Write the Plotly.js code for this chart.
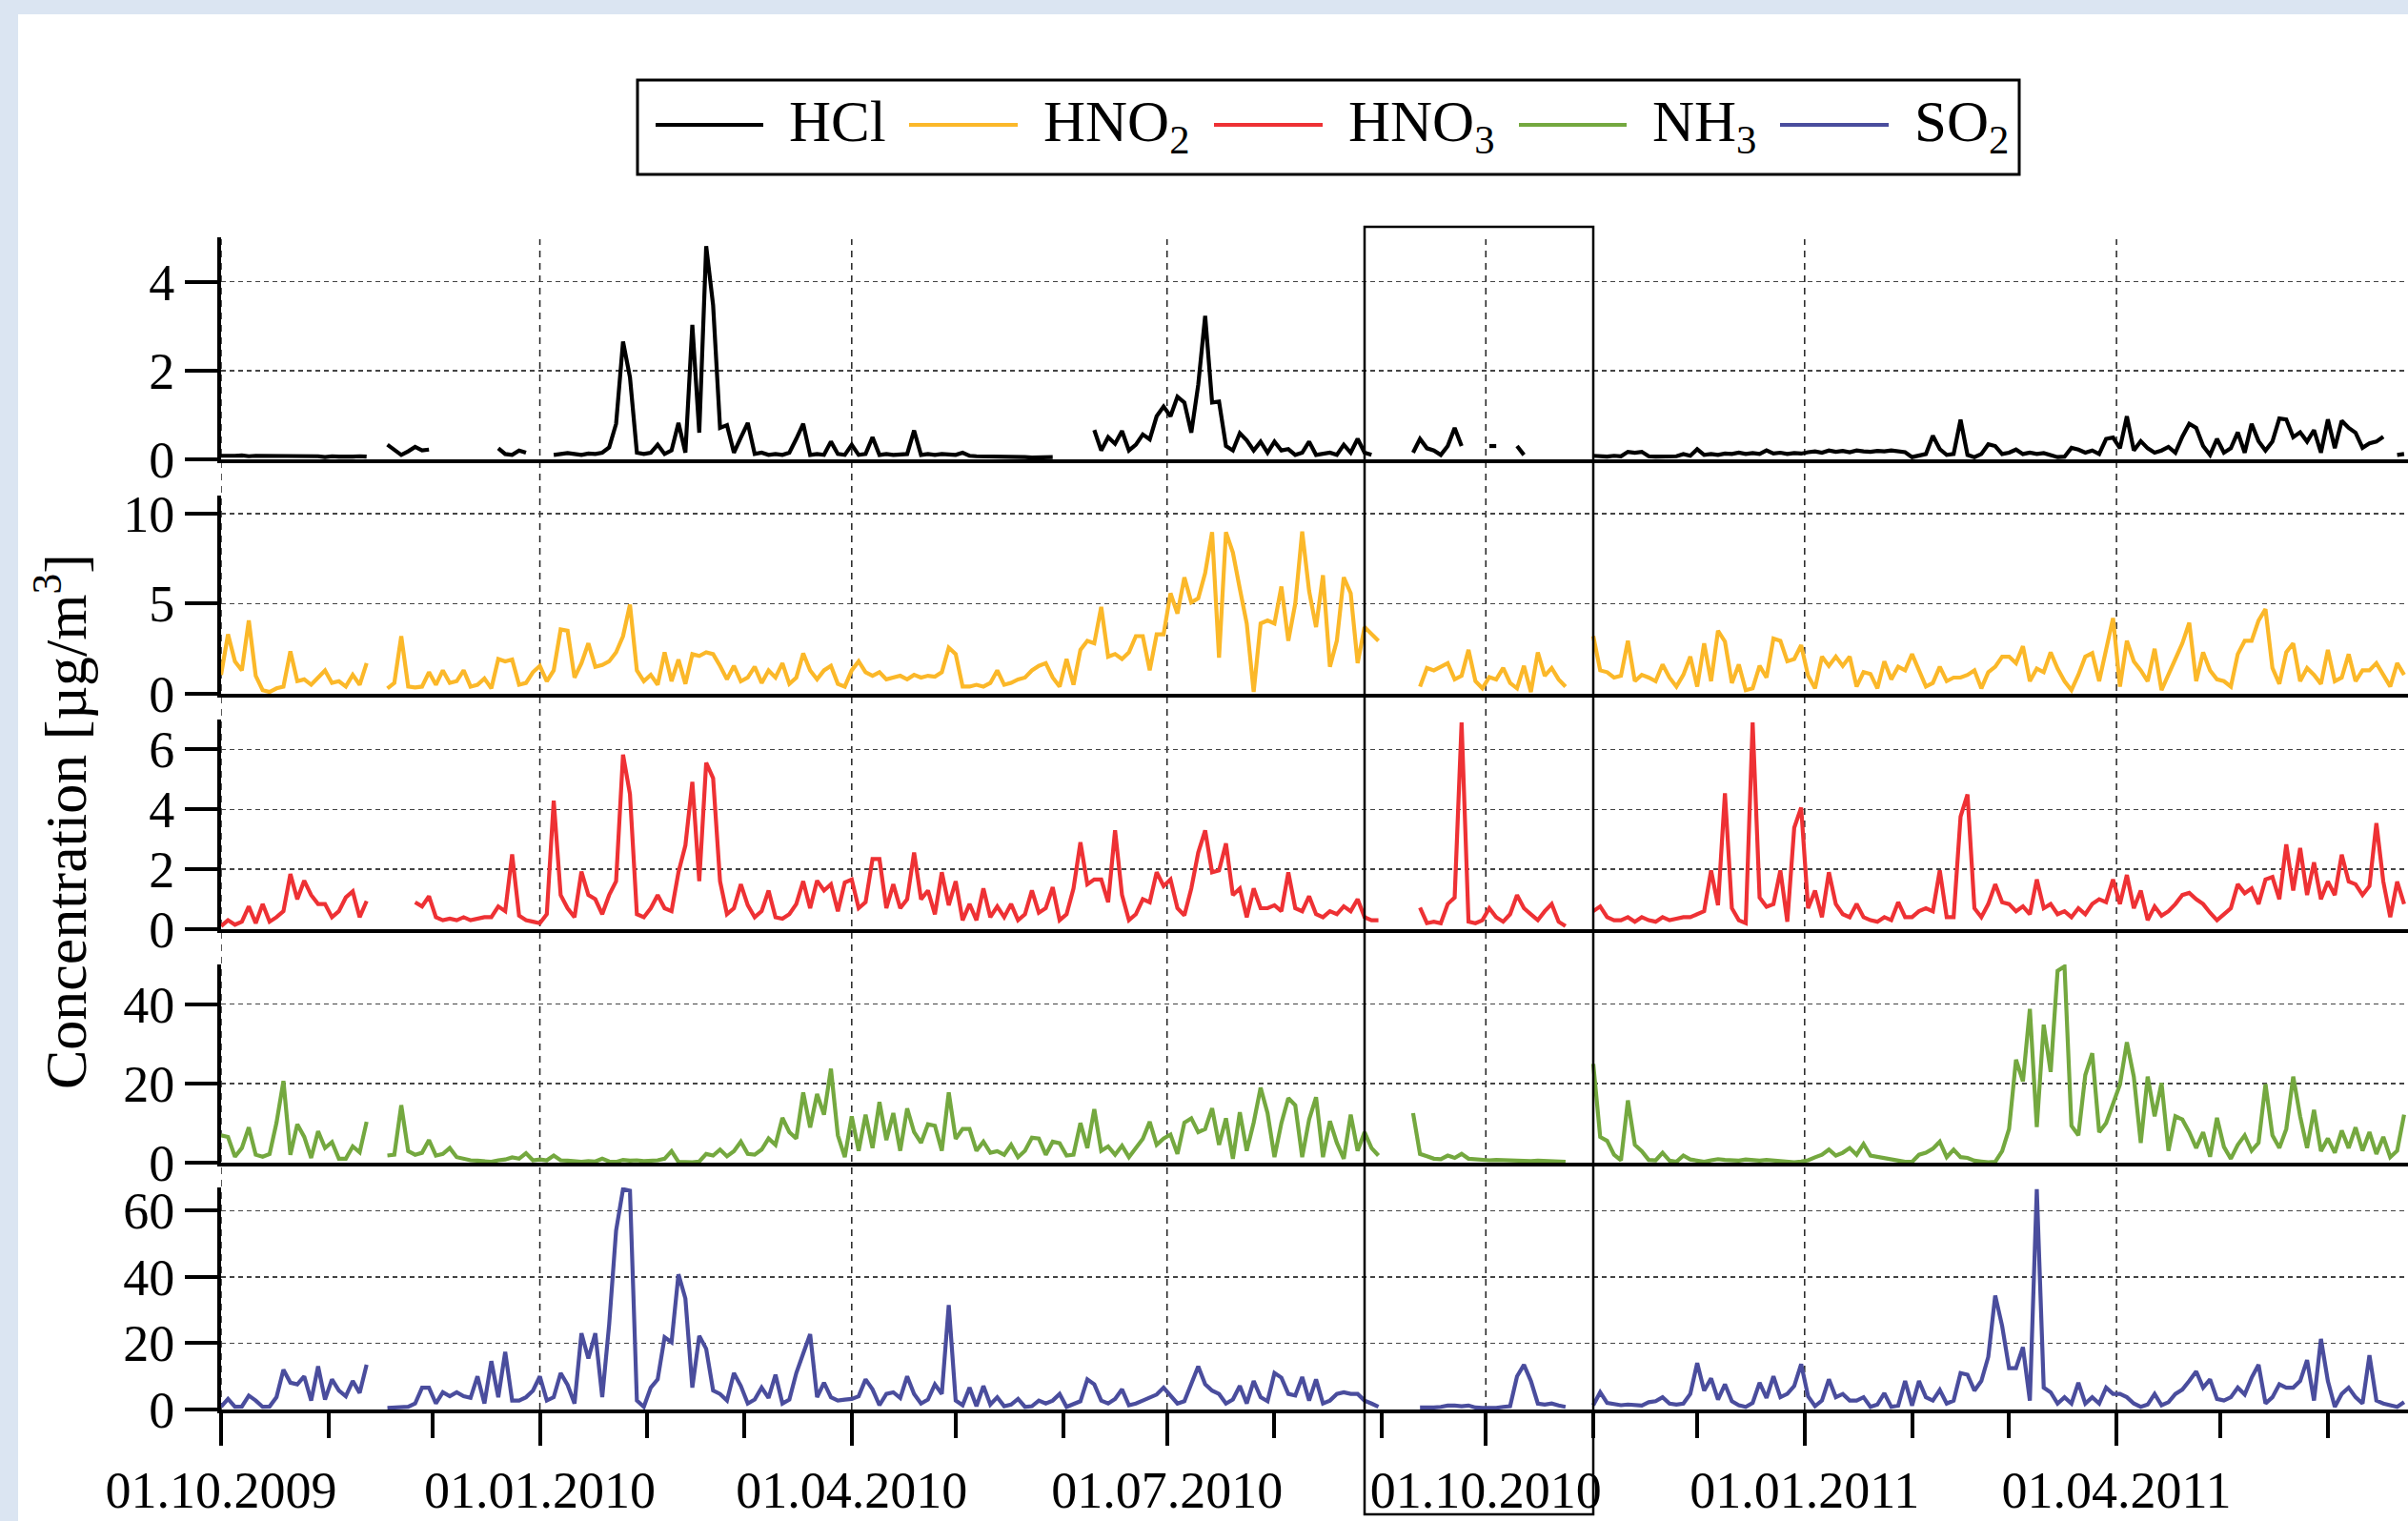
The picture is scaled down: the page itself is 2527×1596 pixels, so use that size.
<!DOCTYPE html>
<html><head><meta charset="utf-8">
<script src="https://cdn.plot.ly/plotly-3.0.1.min.js"></script>
<style>html,body{margin:0;padding:0;background:#fff;}#chart{width:2527px;height:1596px;}</style>
</head><body><div id="chart"></div>
<script>
// sampling grid: one value every 2 days starting 01.10.2009
const SAMPLE_START = '2009-10-01';
const SAMPLE_STEP_DAYS = 2;

const seriesNames = ['HCl', 'HNO<sub>2</sub>', 'HNO<sub>3</sub>', 'NH<sub>3</sub>', 'SO<sub>2</sub>'];
const seriesColors = ['#000000', '#fbb829', '#ee3134', '#74a83f', '#4a4d9d'];

const HCl = [
/*0*/   0.08,0.07,0.08,0.09,0.07,0.08,0.08,0.07,0.07,0.08,
/*10*/  0.06,0.07,0.08,0.06,0.07,0.05,0.07,0.06,0.05,0.06,
/*20*/  0.07,0.06,null,null,0.33,0.22,0.1,0.18,0.28,0.2,
/*30*/  0.22,null,null,null,null,null,null,null,null,null,
/*40*/  0.25,0.12,0.1,0.2,0.15,null,null,null,0.1,0.12,
/*50*/  0.14,0.12,0.1,0.13,0.12,0.15,0.27,0.8,2.65,1.85,
/*60*/  0.15,0.12,0.15,0.33,0.12,0.2,0.82,0.15,3.03,0.6,
/*70*/  4.8,3.47,0.71,0.77,0.15,0.49,0.82,0.12,0.15,0.1,
/*80*/  0.12,0.1,0.15,0.46,0.8,0.1,0.12,0.1,0.4,0.12,
/*90*/  0.1,0.33,0.1,0.12,0.5,0.1,0.12,0.1,0.1,0.12,
/*100*/ 0.65,0.1,0.12,0.1,0.12,0.1,0.1,0.15,0.08,0.07,
/*110*/ 0.07,0.06,0.07,0.06,0.05,0.06,0.05,0.04,0.05,0.06,
/*120*/ 0.05,null,null,null,null,null,0.66,0.2,0.5,0.35,
/*130*/ 0.64,0.2,0.33,0.56,0.45,0.97,1.19,0.97,1.41,1.28,
/*140*/ 0.6,1.68,3.23,1.28,1.3,0.3,0.2,0.59,0.43,0.2,
/*150*/ 0.4,0.15,0.4,0.2,0.23,0.1,0.15,0.4,0.1,0.12,
/*160*/ 0.15,0.1,0.33,0.15,0.46,0.15,0.1,null,null,null,
/*170*/ null,null,0.15,0.46,0.25,0.2,0.1,0.3,0.71,0.3,
/*180*/ null,null,null,0.3,0.3,null,null,0.3,0.1,null,
/*190*/ null,null,null,null,null,null,null,null,0.08,0.07,
/*200*/ 0.06,0.08,0.07,0.17,0.15,0.17,0.07,0.06,0.07,0.08,
/*210*/ 0.07,0.12,0.08,0.23,0.1,0.12,0.1,0.13,0.12,0.15,
/*220*/ 0.12,0.14,0.12,0.2,0.13,0.15,0.12,0.14,0.13,0.16,
/*230*/ 0.18,0.15,0.2,0.17,0.19,0.16,0.2,0.18,0.17,0.19,
/*240*/ 0.18,0.2,0.17,0.16,0.05,0.08,0.12,0.53,0.23,0.1,
/*250*/ 0.12,0.89,0.1,0.05,0.12,0.34,0.3,0.12,0.15,0.22,
/*260*/ 0.12,0.15,0.12,0.14,0.1,0.05,0.06,0.26,0.22,0.15,
/*270*/ 0.2,0.12,0.46,0.49,0.25,0.97,0.2,0.41,0.25,0.15,
/*280*/ 0.2,0.28,0.15,0.51,0.8,0.71,0.3,0.1,0.46,0.15,
/*290*/ 0.25,0.61,0.15,0.8,0.41,0.2,0.4,0.92,0.9,0.5,
/*300*/ 0.61,0.4,0.66,0.15,0.9,0.25,0.87,0.71,0.6,0.26,
/*310*/ 0.36,0.4,0.51,null,0.1,0.12
];

const HNO2 = [
/*0*/   1.05,3.3,1.8,1.3,4.07,1.0,0.2,0.1,0.3,0.4,
/*10*/  2.36,0.7,0.8,0.5,0.9,1.3,0.6,0.7,0.4,1.05,
/*20*/  0.5,1.7,null,null,0.3,0.6,3.2,0.4,0.35,0.4,
/*30*/  1.2,0.5,1.3,0.6,0.7,1.3,0.4,0.5,0.85,0.3,
/*40*/  1.93,1.8,1.9,0.5,0.6,1.2,1.55,0.7,1.3,3.57,
/*50*/  3.5,0.9,1.7,2.8,1.5,1.6,1.8,2.3,3.2,4.95,
/*60*/  1.3,0.7,1.05,0.5,2.3,0.7,1.9,0.55,2.2,2.1,
/*70*/  2.3,2.2,1.55,0.8,1.55,0.7,0.9,1.5,0.6,1.3,
/*80*/  0.9,1.7,0.55,0.9,2.24,1.3,0.8,1.3,1.55,0.55,
/*90*/  0.4,1.3,1.8,1.2,1.0,1.2,0.8,0.9,1.0,0.8,
/*100*/ 1.05,0.9,1.0,0.95,1.2,2.56,2.2,0.4,0.4,0.5,
/*110*/ 0.4,0.6,1.3,0.5,0.6,0.8,0.9,1.3,1.55,1.7,
/*120*/ 0.9,0.4,1.93,0.5,2.44,2.94,2.8,4.82,2.06,2.2,
/*130*/ 1.93,2.3,3.2,3.2,1.3,3.3,3.3,5.58,4.45,6.46,
/*140*/ 5.07,5.3,6.7,8.97,2.0,8.97,7.84,5.83,3.9,0.1,
/*150*/ 3.9,4.07,3.9,5.95,2.94,5.0,9.0,5.7,3.7,6.58,
/*160*/ 1.5,2.94,6.46,5.58,1.7,3.7,3.3,2.94,null,null,
/*170*/ null,null,null,0.4,1.43,1.3,1.5,1.7,0.8,1.0,
/*180*/ 2.44,0.7,0.3,0.93,0.8,1.43,0.6,0.3,1.55,0.1,
/*190*/ 2.3,1.0,1.43,0.8,0.4,null,null,null,3.2,1.3,
/*200*/ 1.2,0.9,1.0,2.94,0.7,1.05,0.9,0.7,1.63,0.9,
/*210*/ 0.4,1.05,2.06,0.4,2.8,0.7,3.5,2.9,0.6,1.63,
/*220*/ 0.2,0.3,1.55,0.9,3.07,2.94,1.8,1.93,2.7,1.0,
/*230*/ 0.3,2.06,1.55,2.06,1.55,2.06,0.4,1.2,1.1,0.3,
/*240*/ 1.8,0.8,1.5,1.3,2.2,1.3,0.4,0.6,1.5,0.7,
/*250*/ 0.9,0.9,1.05,1.3,0.3,1.2,1.5,2.06,2.06,1.7,
/*260*/ 2.64,0.7,1.4,1.2,2.3,1.4,0.7,0.2,1.05,2.06,
/*270*/ 2.26,0.7,2.56,4.2,0.4,2.94,1.8,1.3,0.7,2.5,
/*280*/ 0.2,1.05,2.0,2.8,3.94,0.7,2.3,1.3,0.8,0.7,
/*290*/ 0.4,2.2,2.94,2.94,4.07,4.7,1.43,0.55,2.3,2.8,
/*300*/ 0.7,1.43,1.05,0.55,2.44,0.7,0.9,2.2,0.7,1.3,
/*310*/ 1.3,1.7,1.05,0.4,1.7,1.05
];

const HNO3 = [
/*0*/   0.1,0.3,0.15,0.25,0.76,0.2,0.84,0.25,0.4,0.6,
/*10*/  1.84,1.0,1.62,1.14,0.84,0.84,0.4,0.6,1.06,1.26,
/*20*/  0.4,0.94,null,null,null,null,null,null,0.9,0.76,
/*30*/  1.1,0.4,0.3,0.35,0.3,0.4,0.3,0.35,0.4,0.4,
/*40*/  0.76,0.6,2.5,0.45,0.3,0.25,0.2,0.5,4.29,1.14,
/*50*/  0.7,0.4,1.92,1.14,1.0,0.5,1.14,1.6,5.83,4.51,
/*60*/  0.5,0.4,0.7,1.14,0.7,0.6,1.9,2.8,4.92,1.6,
/*70*/  5.56,5.04,1.6,0.5,0.7,1.5,0.8,0.4,0.6,1.29,
/*80*/  0.4,0.35,0.5,0.84,1.6,0.7,1.62,1.29,1.5,0.6,
/*90*/  1.56,1.66,0.7,0.9,2.34,2.34,0.7,1.5,0.7,1.0,
/*100*/ 2.56,1.0,1.29,0.5,1.9,0.8,1.6,0.3,0.84,0.3,
/*110*/ 1.36,0.4,0.76,0.4,0.84,0.3,0.5,1.29,0.55,0.7,
/*120*/ 1.4,0.3,0.5,1.36,2.9,1.5,1.66,1.66,0.9,3.3,
/*130*/ 1.14,0.3,0.5,1.0,0.9,1.9,1.44,1.66,0.7,0.46,
/*140*/ 1.36,2.56,3.3,1.9,1.96,2.86,1.14,1.36,0.4,1.36,
/*150*/ 0.7,0.7,0.8,0.6,1.9,0.7,0.6,1.1,0.5,0.4,
/*160*/ 0.6,0.5,0.76,0.6,1.0,0.4,0.3,0.3,null,null,
/*170*/ null,null,null,0.72,0.2,0.25,0.2,0.84,1.06,6.9,
/*180*/ 0.25,0.2,0.3,0.7,0.4,0.25,0.5,1.14,0.7,0.5,
/*190*/ 0.3,0.6,0.84,0.25,0.1,null,null,null,0.6,0.76,
/*200*/ 0.4,0.3,0.3,0.4,0.25,0.4,0.3,0.25,0.4,0.3,
/*210*/ 0.35,0.4,0.4,0.5,0.6,1.96,0.8,4.54,0.7,0.3,
/*220*/ 0.2,6.9,1.06,0.75,0.84,1.96,0.25,3.39,4.06,0.7,
/*230*/ 1.29,0.4,1.9,0.84,0.5,0.4,0.84,0.4,0.3,0.25,
/*240*/ 0.4,0.3,0.9,0.4,0.4,0.6,0.7,0.6,1.96,0.4,
/*250*/ 0.4,3.76,4.5,0.7,0.4,0.84,1.5,0.9,0.84,0.6,
/*260*/ 0.76,0.5,1.66,0.7,0.84,0.5,0.6,0.4,0.7,0.5,
/*270*/ 0.84,1.0,0.9,1.66,0.84,1.81,0.7,1.29,0.3,0.76,
/*280*/ 0.45,0.6,0.84,1.14,1.21,1.0,0.84,0.55,0.3,0.5,
/*290*/ 0.7,1.5,1.2,1.36,0.84,1.66,1.74,1.0,2.83,1.29,
/*300*/ 2.71,1.14,2.23,1.0,1.59,1.14,2.49,1.59,1.5,1.14,
/*310*/ 1.44,3.54,1.59,0.4,1.59,0.84
];

const NH3 = [
/*0*/   6.9,6.5,1.5,3.7,8.9,2.0,1.5,2.2,10.1,20.6,
/*10*/  2.0,9.7,6.5,1.2,7.9,3.7,5.2,1.0,1.0,4.1,
/*20*/  2.6,10.3,null,null,1.8,2.0,14.5,2.9,2.0,2.5,
/*30*/  5.7,1.8,2.2,3.7,1.4,1.0,0.6,0.5,0.3,0.2,
/*40*/  0.6,0.8,1.35,1.0,2.4,0.6,0.8,0.6,1.8,0.6,
/*50*/  0.5,0.3,0.2,0.4,0.3,1.0,0.3,0.2,0.7,0.5,
/*60*/  0.6,0.4,0.5,0.6,1.0,2.9,0.2,0.1,0.1,0.3,
/*70*/  2.2,1.8,3.3,1.6,2.9,5.3,2.2,2.0,3.3,6.1,
/*80*/  4.5,11.3,7.7,6.1,17.7,8.9,17.3,12.1,23.7,6.9,
/*90*/  1.4,11.7,3.0,12.1,3.7,15.3,5.7,12.5,3.0,13.7,
/*100*/ 7.7,5.0,9.7,9.3,3.0,17.7,6.0,8.5,8.5,3.0,
/*110*/ 5.3,2.5,2.9,2.0,4.5,1.4,3.0,6.3,6.1,2.0,
/*120*/ 5.3,4.9,1.8,2.0,10.0,3.7,13.5,3.0,4.1,2.0,
/*130*/ 4.3,1.4,3.7,6.0,10.3,4.5,6.1,7.1,2.2,10.1,
/*140*/ 11.2,7.7,8.5,13.7,4.5,11.2,1.0,12.7,3.0,10.1,
/*150*/ 18.9,12.5,1.4,10.0,16.3,14.5,1.4,10.9,16.5,1.4,
/*160*/ 10.5,5.0,1.0,12.1,3.0,7.7,3.7,1.8,null,null,
/*170*/ null,null,12.5,2.2,1.6,1.0,0.9,1.8,1.2,2.2,
/*180*/ 1.0,0.8,0.7,0.6,0.7,0.6,0.5,0.5,0.5,0.4,
/*190*/ 0.5,0.4,0.3,0.2,0.2,null,null,null,24.9,6.5,
/*200*/ 5.5,2.0,0.6,15.7,4.5,2.9,0.7,0.6,2.5,0.5,
/*210*/ 0.2,1.8,0.8,0.5,0.2,0.6,0.9,0.7,0.6,0.5,
/*220*/ 0.8,0.6,0.5,0.7,0.6,0.5,0.4,0.1,0.3,0.6,
/*230*/ 1.35,2.0,3.3,1.8,2.5,3.7,2.0,4.7,1.8,1.5,
/*240*/ 1.2,0.9,0.6,0.2,0.2,2.0,2.5,3.5,5.3,1.4,
/*250*/ 3.3,1.4,1.2,0.5,0.3,0.1,0.2,2.9,8.5,26,
/*260*/ 20.5,38.8,9.0,34.8,22.9,48.4,49.5,9.3,6.9,22.1,
/*270*/ 27.6,7.7,10.0,14.9,19.7,30.4,21.7,5.0,21.7,11.7,
/*280*/ 20.1,3.0,11.7,10.9,7.7,3.7,7.7,1.5,11.3,4.0,
/*290*/ 1.0,4.5,6.9,3.0,5.0,19.8,6.9,3.7,8.5,21.7,
/*300*/ 11.7,3.7,13.3,2.9,6.1,2.5,8.1,3.7,8.9,3.0,
/*310*/ 7.7,2.2,6.5,1.4,3.0,12.1
];

const SO2 = [
/*0*/   0.8,3.2,0.8,0.9,4.2,2.7,0.8,0.9,3.7,12.0,
/*10*/  8.1,7.6,10.0,2.7,13.0,3.0,9.1,5.7,4.0,8.6,
/*20*/  5.0,13.5,null,null,0.5,0.6,0.5,0.8,1.8,6.6,
/*30*/  6.6,1.8,5.2,4.0,5.2,4.0,3.5,10.0,1.8,14.6,
/*40*/  3.7,17.4,2.7,2.7,3.7,5.7,10.0,2.7,3.7,11.0,
/*50*/  7.4,1.8,23.0,15.4,23.0,3.7,25.7,54.0,66.5,66.0,
/*60*/  2.7,0.8,6.6,9.1,21.8,20.3,40.8,33.5,6.6,22.2,
/*70*/  18.3,5.7,4.7,2.7,11.0,7.1,1.8,3.0,6.6,3.5,
/*80*/  10.5,1.8,3.0,11.0,16.9,22.7,3.7,8.1,3.7,2.7,
/*90*/  3.0,3.2,4.0,9.1,6.1,1.3,4.7,5.2,3.5,10.0,
/*100*/ 4.7,1.8,3.0,7.6,4.7,31.5,2.7,1.3,6.6,1.0,
/*110*/ 7.1,1.5,3.7,1.0,1.5,3.2,0.8,1.0,2.7,1.8,
/*120*/ 2.7,4.7,0.8,1.8,2.5,9.1,7.6,2.7,1.8,3.2,
/*130*/ 6.1,1.3,1.8,2.7,3.7,4.5,6.6,4.2,1.8,2.5,
/*140*/ 8.1,13.0,7.6,5.7,4.7,1.8,3.0,7.1,1.8,8.6,
/*150*/ 3.7,2.5,11.0,9.6,4.7,4.2,9.8,2.7,9.1,1.8,
/*160*/ 2.7,4.7,5.2,4.7,4.7,2.7,1.8,0.8,null,null,
/*170*/ null,null,null,0.6,0.5,0.6,0.8,1.2,1.2,1.0,
/*180*/ 1.2,0.6,0.5,0.4,0.5,0.8,1.0,10.0,13.5,8.6,
/*190*/ 1.8,1.5,1.8,1.2,0.8,null,null,null,1.3,5.2,
/*200*/ 2.0,1.8,1.3,1.5,1.3,1.2,2.2,2.5,3.7,1.8,
/*210*/ 1.5,1.8,4.7,14.0,5.7,9.4,3.0,7.6,2.5,1.3,
/*220*/ 0.8,2.0,8.1,3.5,10.0,3.7,4.7,7.1,13.7,4.0,
/*230*/ 1.0,2.7,9.1,3.7,4.7,2.7,2.7,3.7,0.8,1.5,
/*240*/ 4.9,0.8,1.2,8.6,1.2,8.6,3.7,2.7,5.9,1.8,
/*250*/ 2.7,11.0,10.5,5.7,8.6,15.9,34.4,25.2,12.5,12.5,
/*260*/ 18.8,2.7,66.5,6.6,5.2,1.8,3.7,1.8,8.1,1.8,
/*270*/ 3.7,1.8,6.6,4.7,4.7,3.7,1.8,0.8,1.5,4.7,
/*280*/ 1.3,2.2,4.7,6.0,8.6,11.5,6.6,9.1,3.2,2.7,
/*290*/ 3.7,6.6,4.5,9.6,13.5,1.8,3.7,7.6,6.6,6.6,
/*300*/ 8.6,14.9,2.7,21.3,8.6,0.8,4.7,6.6,3.7,1.8,
/*310*/ 16.4,2.7,1.8,1.3,0.8,2.2
];

const quarterTicks  = ['2009-10-01','2010-01-01','2010-04-01','2010-07-01','2010-10-01','2011-01-01','2011-04-01'];
const quarterLabels = ['01.10.2009','01.01.2010','01.04.2010','01.07.2010','01.10.2010','01.01.2011','01.04.2011'];
const monthTicks = ['2009-11-01','2009-12-01','2010-02-01','2010-03-01','2010-05-01','2010-06-01','2010-08-01',
                    '2010-09-01','2010-11-01','2010-12-01','2011-02-01','2011-03-01','2011-05-01','2011-06-01'];
const xRange = ['2009-10-01', '2011-06-24 03:00'];
const highlightPeriod = ['2010-08-27', '2010-11-01'];

const yTicksHCl  = [0, 2, 4];
const yTicksHNO2 = [0, 5, 10];
const yTicksHNO3 = [0, 2, 4, 6];
const yTicksNH3  = [0, 20, 40];
const yTicksSO2  = [0, 20, 40, 60];
const yRanges = [[0, 5], [0, 11], [0, 7], [0, 50], [0, 67]];
const yTitle = 'Concentration [µg/m<sup>3</sup>]';

// ---------- build ----------
const W = 2527, H = 1596, ML = 232;
const px = v => (v - ML) / (W - ML);
const py = v => 1 - v / H;
const FONT = 'Liberation Serif, Times New Roman, serif';

const series = [HCl, HNO2, HNO3, NH3, SO2];
const yTickSets = [yTicksHCl, yTicksHNO2, yTicksHNO3, yTicksNH3, yTicksSO2];
const panelPx = [[249, 482], [520, 728], [755, 975], [1012, 1220], [1246, 1479]];

const t0 = Date.parse(SAMPLE_START + 'T00:00:00Z');
const dates = HCl.map((_, i) => new Date(t0 + i * SAMPLE_STEP_DAYS * 86400000).toISOString().slice(0, 10));

const traces = series.map((ys, k) => ({
  x: dates, y: ys, type: 'scatter', mode: 'lines',
  xaxis: k === 0 ? 'x' : 'x' + (k + 1),
  yaxis: k === 0 ? 'y' : 'y' + (k + 1),
  line: { color: seriesColors[k], width: 4.2 },
  connectgaps: false, showlegend: false, hoverinfo: 'skip',
  name: seriesNames[k]
}));

const layout = {
  width: W, height: H,
  margin: { l: ML, r: 0, t: 0, b: 0, pad: 0 },
  paper_bgcolor: '#ffffff', plot_bgcolor: 'rgba(0,0,0,0)',
  showlegend: false,
  font: { family: FONT, color: '#000' },
  shapes: [], annotations: []
};

for (let k = 0; k < 5; k++) {
  const sfx = k === 0 ? '' : String(k + 1);
  const last = k === 4;
  layout['xaxis' + sfx] = {
    type: 'date', domain: [0, 1], anchor: 'y' + sfx, range: xRange,
    showline: true, linecolor: '#000', linewidth: 4,
    showgrid: false, zeroline: false,
    ticks: last ? 'outside' : '', showticklabels: last,
    tickmode: 'array', tickvals: quarterTicks, ticktext: quarterLabels,
    ticklen: 34, tickwidth: 4, tickcolor: '#000',
    tickfont: { family: FONT, size: 54, color: '#000' },
    ticklabelstandoff: 0,
    minor: last ? { tickmode: 'array', tickvals: monthTicks, ticks: 'outside', ticklen: 26, tickwidth: 4, tickcolor: '#000', showgrid: false } : undefined,
    fixedrange: true
  };
  layout['yaxis' + sfx] = {
    domain: [py(panelPx[k][1]), py(panelPx[k][0])], anchor: 'x' + sfx,
    range: yRanges[k], tickmode: 'array', tickvals: yTickSets[k],
    ticks: 'outside', ticklen: 34, tickwidth: 4, tickcolor: '#000',
    showline: true, linecolor: '#000', linewidth: 4,
    showgrid: true, gridcolor: '#444', gridwidth: 1.5, griddash: '5px,4px',
    zeroline: false,
    tickfont: { family: FONT, size: 54, color: '#000' },
    fixedrange: true
  };
}

// light blue frame of the figure
layout.shapes.push({ type: 'rect', xref: 'paper', yref: 'paper', x0: px(0), x1: px(19), y0: py(H), y1: py(0), fillcolor: '#dbe5f2', line: { width: 0 }, layer: 'below' });
layout.shapes.push({ type: 'rect', xref: 'paper', yref: 'paper', x0: px(0), x1: px(W), y0: py(15), y1: py(0), fillcolor: '#dbe5f2', line: { width: 0 }, layer: 'below' });

// vertical dashed date grid spanning all panels
quarterTicks.forEach(d => {
  layout.shapes.push({ type: 'line', xref: 'x5', yref: 'paper', x0: d, x1: d, y0: py(1479), y1: py(251),
    line: { color: '#222', width: 1.5, dash: '7px,6px' }, layer: 'below' });
});

// highlighted period box
layout.shapes.push({ type: 'rect', xref: 'x5', yref: 'paper', x0: highlightPeriod[0], x1: highlightPeriod[1],
  y0: py(1589), y1: py(238), line: { color: '#000', width: 2.5 }, fillcolor: 'rgba(0,0,0,0)', layer: 'above' });

// legend
const legLineX = [[688, 801], [954, 1068], [1274, 1388], [1594, 1707], [1868, 1982]];
const legTextX = [827, 1094, 1414, 1733, 2008];
layout.shapes.push({ type: 'rect', xref: 'paper', yref: 'paper', x0: px(669), x1: px(2119), y0: py(183), y1: py(84),
  line: { color: '#000', width: 3 }, fillcolor: '#fff', layer: 'above' });
for (let k = 0; k < 5; k++) {
  layout.shapes.push({ type: 'line', xref: 'paper', yref: 'paper', x0: px(legLineX[k][0]), x1: px(legLineX[k][1]),
    y0: py(131), y1: py(131), line: { color: seriesColors[k], width: 4 }, layer: 'above' });
  layout.annotations.push({ xref: 'paper', yref: 'paper', x: px(legTextX[k]), y: py(93), xanchor: 'left', yanchor: 'top',
    text: seriesNames[k], showarrow: false, font: { family: FONT, size: 61, color: '#000' }, borderpad: 0 });
}

// y title
layout.annotations.push({ xref: 'paper', yref: 'paper', x: px(64), y: py(862), xanchor: 'center', yanchor: 'middle',
  text: yTitle, textangle: -90, showarrow: false, font: { family: FONT, size: 62, color: '#000' } });

Plotly.newPlot('chart', traces, layout, { staticPlot: true, displayModeBar: false });
</script>
</body></html>
